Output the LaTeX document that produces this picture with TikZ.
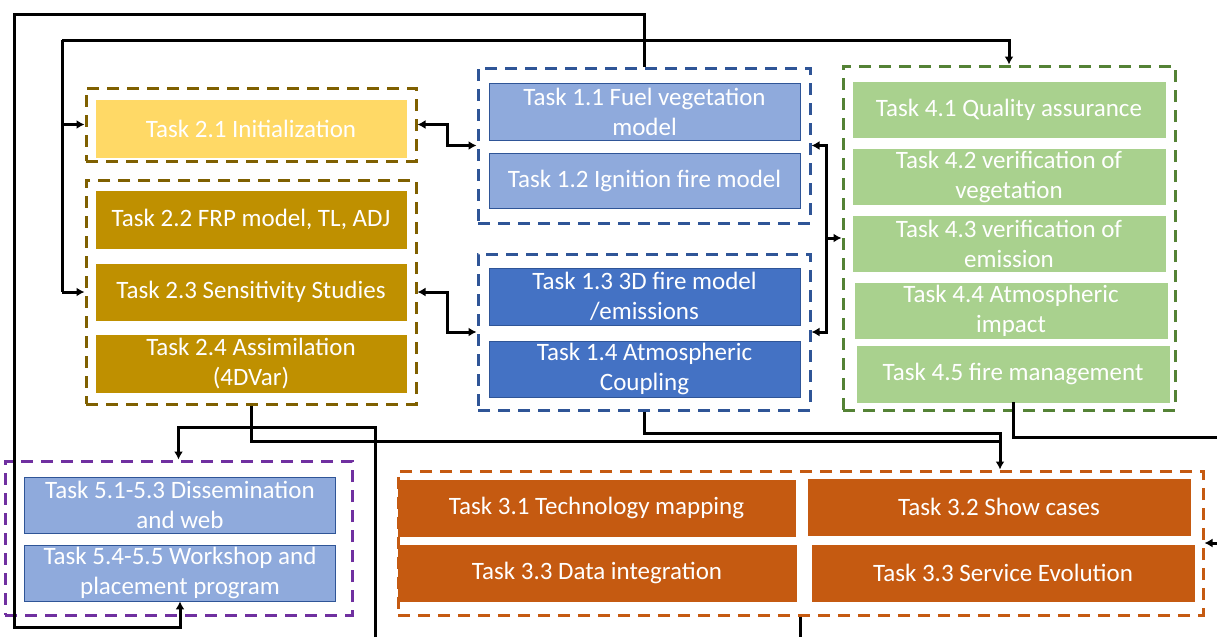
\documentclass[tikz,border=0pt]{standalone}
\usepackage{fontspec}
\setmainfont{Carlito}
\usetikzlibrary{arrows.meta}
\definecolor{goldline}{HTML}{7F6000}
\definecolor{goldlight}{HTML}{FFD966}
\definecolor{golddark}{HTML}{BF9000}
\definecolor{blueline}{HTML}{2F5597}
\definecolor{bluelight}{HTML}{8FAADC}
\definecolor{bluedark}{HTML}{4472C4}
\definecolor{greenline}{HTML}{548235}
\definecolor{greenfill}{HTML}{A9D18E}
\definecolor{purpleline}{HTML}{7030A0}
\definecolor{orangefill}{HTML}{C55A11}
\tikzset{
  group/.style={draw=#1, line width=3pt, dash pattern=on 12pt off 8pt, inner sep=0pt},
  task/.style={fill=#1, draw=#1, line width=0.8pt, text=white, align=center, inner sep=0pt,
    font=\fontsize{25}{30}\selectfont},
  conn/.style={line width=3pt, draw=black},
  arr/.style={conn, -{Latex[length=8pt,width=9pt]}},
  dbl/.style={conn, {Latex[length=8pt,width=9pt]}-{Latex[length=8pt,width=9pt]}},
}
\begin{document}
\begin{tikzpicture}[x=1pt, y=-1pt]
\useasboundingbox (0,0) rectangle (1217,637);

% WP2 groups and tasks
\node[group=goldline, minimum width=330pt, minimum height=73pt] (wp2a) at (251,124.5) {};
\node[task=goldlight, minimum width=310pt, minimum height=57pt] (t21) at (251,128.5) {Task 2.1 Initialization};
\node[group=goldline, minimum width=330pt, minimum height=224pt] (wp2b) at (251,292) {};
\node[task=golddark, minimum width=310pt, minimum height=57pt] (t22) at (251,219.5) {Task 2.2 FRP model, TL, ADJ};
\node[task=golddark, minimum width=310pt, minimum height=56pt] (t23) at (251,292) {Task 2.3 Sensitivity Studies};
\node[task=golddark, minimum width=310pt, minimum height=57pt] (t24) at (251,363.5) {Task 2.4 Assimilation\\(4DVar)};

% WP1 groups and tasks
\node[group=blueline, minimum width=332pt, minimum height=155pt] (blueA) at (644,145.5) {};
\node[task=bluelight, draw=blueline, minimum width=311pt, minimum height=57pt] (t11) at (644.5,111.5) {Task 1.1 Fuel vegetation\\model};
\node[task=bluelight, draw=blueline, minimum width=311pt, minimum height=55pt] (t12) at (644.5,180.5) {Task 1.2 Ignition fire model};
\node[group=blueline, minimum width=332pt, minimum height=156pt] (blueB) at (644,332) {};
\node[task=bluedark, draw=blueline, minimum width=311pt, minimum height=57pt] (t13) at (644.5,296.5) {Task 1.3 3D fire model\\/emissions};
\node[task=bluedark, draw=blueline, minimum width=311pt, minimum height=56pt] (t14) at (644.5,369) {Task 1.4 Atmospheric\\Coupling};

% WP4 group and tasks
\node[group=greenline, minimum width=332pt, minimum height=344pt] (green) at (1009,238) {};
\node[task=greenfill, minimum width=312pt, minimum height=55pt] (t41) at (1009,109.5) {Task 4.1 Quality assurance};
\node[task=greenfill, minimum width=312pt, minimum height=55pt] (t42) at (1009,176.5) {Task 4.2 verification of\\vegetation};
\node[task=greenfill, minimum width=312pt, minimum height=55pt] (t43) at (1009,243.5) {Task 4.3 verification of\\emission};
\node[task=greenfill, minimum width=312pt, minimum height=55pt] (t44) at (1011,310.5) {Task 4.4 Atmospheric\\impact};
\node[task=greenfill, minimum width=312pt, minimum height=56pt] (t45) at (1013,374) {Task 4.5 fire management};

% WP5 group and tasks
\node[group=purpleline, minimum width=347pt, minimum height=154pt] (purple) at (178.5,538) {};
\node[task=bluelight, draw=blueline, minimum width=311pt, minimum height=56pt] (t51) at (180,505) {Task 5.1-5.3 Dissemination\\and web};
\node[task=bluelight, draw=blueline, minimum width=311pt, minimum height=56pt] (t54) at (180,573) {Task 5.4-5.5 Workshop and\\placement program};

% WP3 group and tasks
\node[group=orangefill, minimum width=805pt, minimum height=144pt] (orange) at (800.5,543) {};
\node[task=orangefill, minimum width=397pt, minimum height=56pt] (t31) at (596.5,508) {Task 3.1 Technology mapping};
\node[task=orangefill, minimum width=382pt, minimum height=56pt] (t32) at (999,507) {Task 3.2 Show cases};
\node[task=orangefill, minimum width=398pt, minimum height=56pt] (t33a) at (597,573) {Task 3.3 Data integration};
\node[task=orangefill, minimum width=382pt, minimum height=56pt] (t33b) at (1003,573) {Task 3.3 Service Evolution};

% helper points for the routing
\coordinate (outer) at (14,14);
\coordinate (inner) at (62,40);
\coordinate (m1) at (447,0);
\coordinate (v) at (826,0);
\coordinate (j1) at (1000,433);
\coordinate (j2) at (1000,441);
\coordinate (e1) at (1217,437);
\coordinate (e2) at (1217,543);
\coordinate (b1) at (375,637);
\coordinate (b2) at (180,627);

% outer loop: WP1 to WP5
\draw[arr] (blueA.north) |- (outer) |- (b2) -- (t54.south);

% inner bus: WP2 inputs and WP4
\draw[arr] (inner) -| (green.north);
\draw[conn] (inner) -- (inner |- wp2b.west);
\draw[arr] (inner |- wp2a.west) -- (wp2a.west);
\draw[arr] (inner |- wp2b.west) -- (wp2b.west);

% WP2 <-> WP1
\draw[dbl] (wp2a.east) -| (m1 |- blueA.west) -- (blueA.west);
\draw[dbl] (wp2b.east) -| (m1 |- blueB.west) -- (blueB.west);

% WP1 <-> WP4
\draw[dbl] (blueA.east) -| (v |- blueB.east) -- (blueB.east);
\draw[arr] (v |- green.west) -- (green.west);

% WP4 out to the right edge, and back into WP3
\draw[conn] (t45.south) |- (e1);
\draw[arr] (e2) -- (orange.east);

% WP1 and WP2 into WP3
\draw[arr] (blueB.south) |- (j1) -- (j1 |- orange.north);
\draw[conn] (wp2b.south) |- (j2);

% bottom line into WP5
\draw[arr] (b1) |- (purple.north |- 0,427) -- (purple.north);
\draw[conn] (orange.south) -- (orange.south |- b1);
\end{tikzpicture}
\end{document}
